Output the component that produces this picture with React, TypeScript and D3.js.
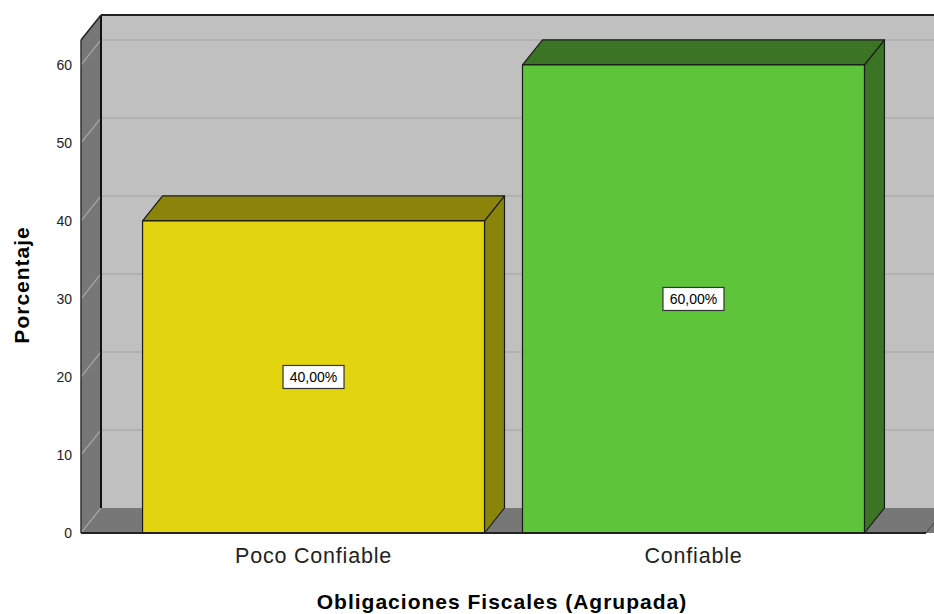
import React from "react";
import * as d3 from "d3";

const categories = ["Poco Confiable", "Confiable"];
const percentages = [40, 60];
const valueLabels = ["40,00%", "60,00%"];
const yTicks = [0, 10, 20, 30, 40, 50, 60];

const frontColors = ["#e2d510", "#5ec43a"];
const sideColors = ["#8a840a", "#3b7425"];

const W = 934;
const H = 614;
// depth offset of the 3D box
const DX = 20;
const DY = -25;

export default function App() {
  const x = d3
    .scaleBand<string>()
    .domain(categories)
    .range([81, 926])
    .paddingInner(0.1)
    .paddingOuter(0.162);
  const y = d3.scaleLinear().domain([0, 63.2]).range([533, 40]);

  const x0 = 81;
  const x1 = 926;
  const yBottom = y(0);
  const yTop = y(63.2);

  const pts = (arr: [number, number][]) => arr.map((p) => p.join(",")).join(" ");
  const font = "'Liberation Sans', Arial, sans-serif";

  return (
    <svg
      width={W}
      height={H}
      style={{ position: "absolute", left: 0, top: 0, background: "#fff" }}
      fontFamily={font}
    >
      {/* back wall */}
      <rect x={x0 + DX} y={yTop + DY} width={x1 - x0 + 40} height={yBottom - yTop} fill="#c0c0c0" />
      {yTicks.slice(1).map((t) => (
        <line key={"g" + t} x1={x0 + DX} x2={x1 + DX + 40} y1={y(t) + DY} y2={y(t) + DY} stroke="#adadad" strokeWidth={1.5} />
      ))}
      {/* left wall */}
      <polygon
        points={pts([
          [x0, yTop],
          [x0 + DX, yTop + DY],
          [x0 + DX, yBottom + DY],
          [x0, yBottom],
        ])}
        fill="#777777"
      />
      {yTicks.map((t) => (
        <line key={"lg" + t} x1={x0} y1={y(t)} x2={x0 + DX} y2={y(t) + DY} stroke="#a8a8a8" strokeWidth={1.2} />
      ))}
      {/* floor */}
      <polygon
        points={pts([
          [x0, yBottom],
          [x0 + DX, yBottom + DY],
          [x1 + DX + 40, yBottom + DY],
          [x1 + 40, yBottom],
        ])}
        fill="#777777"
      />
      <line x1={x0} y1={yBottom} x2={x0 + DX} y2={yBottom + DY} stroke="#a8a8a8" strokeWidth={1.2} />
      {/* wall edges */}
      <line x1={x0 + DX} y1={yTop + DY} x2={x0 + DX} y2={yBottom + DY} stroke="#111" strokeWidth={2} />
      <line x1={x0 + DX} y1={yTop + DY} x2={W + 10} y2={yTop + DY} stroke="#222" strokeWidth={2} />
      <line x1={x0} y1={yTop} x2={x0 + DX} y2={yTop + DY} stroke="#222" strokeWidth={1.5} />
      <line x1={x0} y1={yTop} x2={x0} y2={yBottom} stroke="#333" strokeWidth={1.5} />
      <line x1={x0} y1={yBottom} x2={x1} y2={yBottom} stroke="#222" strokeWidth={2} />
      <line x1={x1} y1={yBottom} x2={x1 + DX} y2={yBottom + DY} stroke="#444" strokeWidth={1} />

      {/* bars */}
      {categories.map((c, i) => {
        const bx = x(c)!;
        const bw = x.bandwidth();
        const by = y(percentages[i]);
        return (
          <g key={c} stroke="#1a1a1a" strokeWidth={1.2} strokeLinejoin="round">
            <polygon
              points={pts([
                [bx + bw, by],
                [bx + bw + DX, by + DY],
                [bx + bw + DX, yBottom + DY],
                [bx + bw, yBottom],
              ])}
              fill={sideColors[i]}
            />
            <polygon
              points={pts([
                [bx, by],
                [bx + DX, by + DY],
                [bx + bw + DX, by + DY],
                [bx + bw, by],
              ])}
              fill={sideColors[i]}
            />
            <rect x={bx} y={by} width={bw} height={yBottom - by} fill={frontColors[i]} />
          </g>
        );
      })}
      {/* front baseline over bars */}
      <line x1={x0} y1={yBottom} x2={x1} y2={yBottom} stroke="#222" strokeWidth={2} />

      {/* value labels */}
      {categories.map((c, i) => {
        const cx = x(c)! + x.bandwidth() / 2;
        const cy = y(percentages[i] / 2);
        return (
          <g key={"lbl" + c}>
            <rect x={cx - 30.5} y={cy - 11.5} width={61} height={23} fill="#fff" stroke="#333" strokeWidth={1.2} />
            <text x={cx} y={cy + 5} textAnchor="middle" fontSize={14} fill="#000">
              {valueLabels[i]}
            </text>
          </g>
        );
      })}

      {/* y tick labels */}
      {yTicks.map((t) => (
        <text key={"t" + t} x={72} y={y(t) + 5} textAnchor="end" fontSize={14} fill="#222">
          {t}
        </text>
      ))}

      {/* category labels */}
      {categories.map((c) => (
        <text
          key={"c" + c}
          x={x(c)! + x.bandwidth() / 2}
          y={563}
          textAnchor="middle"
          fontSize={21.5}
          letterSpacing={0.8}
          fill="#222"
        >
          {c}
        </text>
      ))}

      {/* axis titles */}
      <text x={502} y={609} textAnchor="middle" fontSize={21} letterSpacing={1} fontWeight="bold" fill="#000">
        Obligaciones Fiscales (Agrupada)
      </text>
      <text
        transform={`translate(29,${y(31.8)}) rotate(-90)`}
        textAnchor="middle"
        fontSize={21}
        letterSpacing={1}
        fontWeight="bold"
        fill="#000"
      >
        Porcentaje
      </text>
    </svg>
  );
}
